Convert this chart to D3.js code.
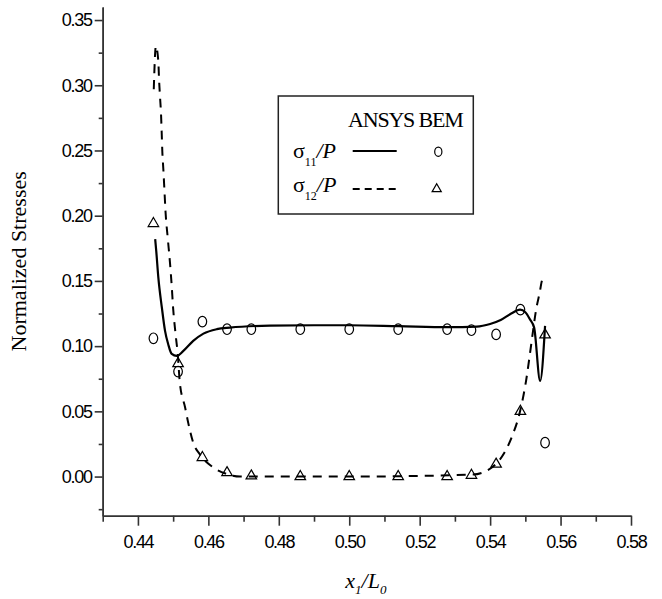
<!DOCTYPE html>
<html>
<head>
<meta charset="utf-8">
<script src="https://cdn.jsdelivr.net/npm/d3@7"></script>
<style>
  body { margin: 0; background: #fff; }
  svg { display: block; }
  .tick text { font-family: "Liberation Sans", Arial, sans-serif; font-size: 18px; letter-spacing: -1.3px; fill: #000; }
</style>
</head>
<body>
<div id="chart"></div>
<script>
// ANSYS curves
const s11AnsysX = [0.4449, 0.4452, 0.4458, 0.4468, 0.4477, 0.4486, 0.4496, 0.4510, 0.4529, 0.4557, 0.4586, 0.4624, 0.4661, 0.4775, 0.4900, 0.5000, 0.5140, 0.5280, 0.5362, 0.5400, 0.5430, 0.5460, 0.5485, 0.5500, 0.5513, 0.5525, 0.5542, 0.5556];
const s11AnsysY = [0.182, 0.173, 0.1525, 0.1295, 0.1117, 0.1015, 0.094, 0.0925, 0.0963, 0.104, 0.1096, 0.113, 0.1142, 0.1157, 0.116, 0.116, 0.1153, 0.1145, 0.115, 0.117, 0.120, 0.125, 0.128, 0.126, 0.1206, 0.1142, 0.0733, 0.1155];

const s12AnsysX = [0.4445, 0.4451, 0.44579, 0.44599, 0.44628, 0.44656, 0.44676, 0.44693, 0.44721, 0.4475, 0.44784, 0.4485, 0.4491, 0.4496, 0.4500, 0.4507, 0.4513, 0.4519, 0.4534, 0.4543, 0.4557, 0.4576, 0.4614, 0.4652, 0.4690, 0.5000, 0.5350, 0.5390, 0.5416, 0.5440, 0.5461, 0.5485, 0.5503, 0.5515, 0.5523, 0.5530, 0.5540, 0.5549, 0.5553];
const s12AnsysY = [0.297, 0.330, 0.3186, 0.305, 0.291, 0.278, 0.263, 0.249, 0.236, 0.221, 0.203, 0.182, 0.164, 0.146, 0.129, 0.109, 0.094, 0.072, 0.053, 0.041, 0.026, 0.017, 0.007, 0.002, 0.0, 0.0, 0.0015, 0.0044, 0.0095, 0.018, 0.030, 0.050, 0.075, 0.098, 0.114, 0.127, 0.140, 0.151, 0.147];

// BEM points
const bemX = [0.4444, 0.4514, 0.4583, 0.4653, 0.4722, 0.4861, 0.5000, 0.5139, 0.5278, 0.5347, 0.5417, 0.5486, 0.5556];
const s11Bem = [0.106, 0.0805, 0.1188, 0.113, 0.113, 0.113, 0.113, 0.113, 0.113, 0.1122, 0.109, 0.128, 0.026];
const s12Bem = [0.194, 0.0866, 0.0146, 0.003, 0.0005, 0.0, 0.0, 0.0, 0.0, 0.001, 0.0095, 0.050, 0.1086];

const xTicks = [0.44, 0.46, 0.48, 0.50, 0.52, 0.54, 0.56, 0.58];
const xMinor = [0.43, 0.45, 0.47, 0.49, 0.51, 0.53, 0.55, 0.57];
const yTicks = [0.00, 0.05, 0.10, 0.15, 0.20, 0.25, 0.30, 0.35];
const yMinor = [-0.025, 0.025, 0.075, 0.125, 0.175, 0.225, 0.275, 0.325];

const width = 662, height = 599;
const plotLeft = 102.7, plotRight = 631, plotTop = 7, plotBottom = 515.7;

const svg = d3.select("#chart").append("svg")
  .attr("width", width).attr("height", height);

const x = d3.scaleLinear().domain([0.43, 0.58]).range([plotLeft, plotRight]);
const y = d3.scaleLinear().domain([-0.03, 0.36]).range([plotBottom, plotTop]);

function styleAxis(g) {
  g.select(".domain").attr("stroke", "#333").attr("stroke-width", 1.6);
  g.selectAll(".tick line").attr("stroke", "#333").attr("stroke-width", 1.6);
}

// x axis
svg.append("g").attr("transform", `translate(0,${plotBottom})`)
  .call(d3.axisBottom(x).tickValues(xMinor).tickSize(6).tickFormat("").tickSizeOuter(0))
  .call(styleAxis);
svg.append("g").attr("transform", `translate(0,${plotBottom})`)
  .call(d3.axisBottom(x).tickValues(xTicks).tickSize(10).tickSizeOuter(0).tickFormat(d3.format(".2f")).tickPadding(10))
  .call(styleAxis);

// y axis
svg.append("g").attr("transform", `translate(${plotLeft},0)`)
  .call(d3.axisLeft(y).tickValues(yMinor).tickSize(4).tickFormat("").tickSizeOuter(0))
  .call(styleAxis);
svg.append("g").attr("transform", `translate(${plotLeft},0)`)
  .call(d3.axisLeft(y).tickValues(yTicks).tickSize(8).tickSizeOuter(0).tickFormat(d3.format(".2f")).tickPadding(3))
  .call(styleAxis);

const serif = "'Liberation Serif', 'Times New Roman', serif";

// axis titles
svg.append("text")
  .attr("transform", `translate(26,${(plotTop + plotBottom) / 2}) rotate(-90)`)
  .attr("text-anchor", "middle")
  .attr("font-family", serif)
  .attr("font-size", 22)
  .text("Normalized Stresses");

const xt = svg.append("text")
  .attr("x", (plotLeft + plotRight) / 2 - 1).attr("y", 588)
  .attr("text-anchor", "middle")
  .attr("font-family", serif)
  .attr("font-size", 22).attr("font-style", "italic");
xt.append("tspan").text("x");
xt.append("tspan").attr("font-size", 13).attr("dy", 6).text("1");
xt.append("tspan").attr("dy", -6).text("/L");
xt.append("tspan").attr("font-size", 13).attr("dy", 6).text("0");

// ANSYS lines
const line = d3.line().x(d => x(d[0])).y(d => y(d[1])).curve(d3.curveMonotoneX);

svg.append("path")
  .datum(d3.zip(s12AnsysX, s12AnsysY))
  .attr("d", line)
  .attr("fill", "none").attr("stroke", "#000").attr("stroke-width", 2)
  .attr("stroke-dasharray", "9,7");

svg.append("path")
  .datum(d3.zip(s11AnsysX, s11AnsysY))
  .attr("d", line)
  .attr("fill", "none").attr("stroke", "#000").attr("stroke-width", 2.2);

// BEM markers
const tri = d3.symbol().type(d3.symbolTriangle).size(48);

svg.append("g").selectAll("ellipse")
  .data(d3.zip(bemX, s11Bem))
  .join("ellipse")
  .attr("cx", d => x(d[0])).attr("cy", d => y(d[1]))
  .attr("rx", 4.3).attr("ry", 5.3)
  .attr("fill", "none").attr("stroke", "#000").attr("stroke-width", 1.2);

svg.append("g").selectAll("path")
  .data(d3.zip(bemX, s12Bem))
  .join("path")
  .attr("transform", d => `translate(${x(d[0])},${y(d[1])})`)
  .attr("d", tri)
  .attr("fill", "none").attr("stroke", "#000").attr("stroke-width", 1.2);

// legend
const lg = svg.append("g");
lg.append("rect")
  .attr("x", 278.3).attr("y", 96).attr("width", 195).attr("height", 118)
  .attr("fill", "#fff").attr("stroke", "#222").attr("stroke-width", 1.5);

lg.append("text")
  .attr("x", 348).attr("y", 127)
  .attr("font-family", serif).attr("font-size", 22).attr("letter-spacing", -1.2)
  .text("ANSYS BEM");

function legendLabel(yb, sub) {
  const t = lg.append("text").attr("x", 293).attr("y", yb)
    .attr("font-family", serif).attr("font-size", 22);
  t.append("tspan").text("σ");
  t.append("tspan").attr("font-size", 12).attr("dy", 8).text(sub);
  t.append("tspan").attr("dy", -8).attr("font-style", "italic").text("/P");
}
legendLabel(158, "11");
legendLabel(192, "12");

lg.append("line").attr("x1", 352.7).attr("x2", 396.7).attr("y1", 151).attr("y2", 151)
  .attr("stroke", "#000").attr("stroke-width", 2.2);
lg.append("line").attr("x1", 352.7).attr("x2", 397).attr("y1", 189).attr("y2", 189)
  .attr("stroke", "#000").attr("stroke-width", 2).attr("stroke-dasharray", "7,5");
lg.append("ellipse").attr("cx", 438.3).attr("cy", 151.7).attr("rx", 3.6).attr("ry", 4.6)
  .attr("fill", "none").attr("stroke", "#000").attr("stroke-width", 1.2);
lg.append("path").attr("transform", "translate(436.7,189)").attr("d", d3.symbol().type(d3.symbolTriangle).size(36))
  .attr("fill", "none").attr("stroke", "#000").attr("stroke-width", 1.2);
</script>
</body>
</html>
